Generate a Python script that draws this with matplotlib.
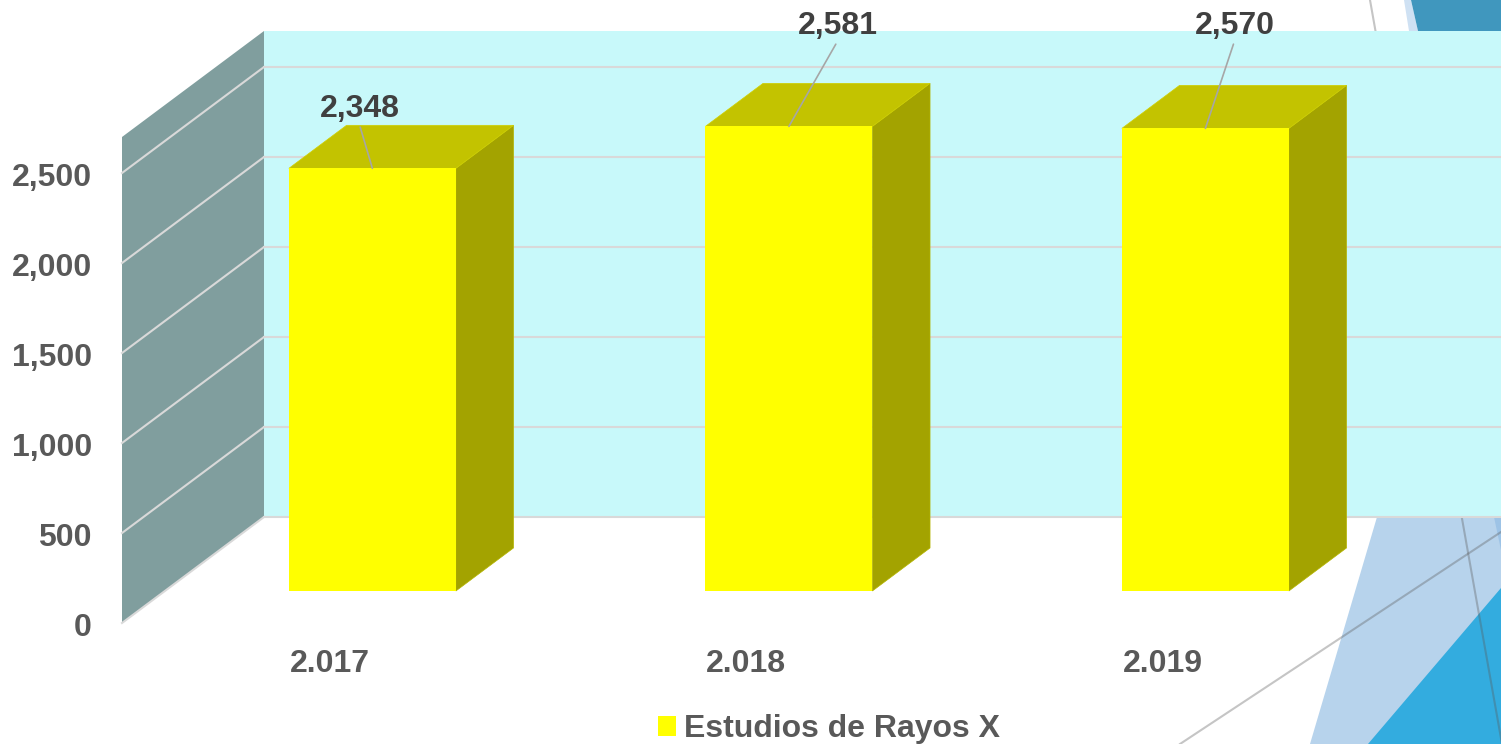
import matplotlib
matplotlib.use('Agg')
import matplotlib.pyplot as plt
from matplotlib.patches import Polygon, Patch

# data
years = ['2.017', '2.018', '2.019']
estudios = [2348, 2581, 2570]
series_name = 'Estudios de Rayos X'
y_ticks = [0, 500, 1000, 1500, 2000, 2500]
y_tick_labels = ['0', '500', '1,000', '1,500', '2,000', '2,500']
y_max = 2700

plt.rcParams['font.family'] = ['Liberation Sans', 'DejaVu Sans']

W, H = 1501, 744
PX_CAT = 416.5       # pixels per category
PX_VAL = 0.18        # pixels per unit of value
X0_PX, Y0_PX = 329.5, 623
DX = 142 / PX_CAT    # depth offset of the 3D box, in data units
DY = 106 / PX_VAL
D_FRONT, D_BACK = 0.302, 0.708
HALF_W = 83.5 / PX_CAT
X_WALL = (122 - X0_PX) / PX_CAT

def proj(x, v, d):
    return (x + d * DX, v + d * DY)

fig = plt.figure(figsize=(W / 100, H / 100), dpi=100)

# theme decoration of the slide behind the chart
bg = fig.add_axes([0, 0, 1, 1], zorder=0)
bg.set_xlim(0, W)
bg.set_ylim(H, 0)
bg.axis('off')
bg.add_patch(Polygon([(1310, 744), (1377, 517), (1395, 455), (1501, 455), (1501, 744)],
                     closed=True, fc='#B7D3EC', ec='none'))
bg.add_patch(Polygon([(1494, 517), (1501, 517), (1501, 550)], closed=True, fc='#9DC3E6', ec='none'))
bg.add_patch(Polygon([(1368, 744), (1501, 588), (1501, 744)], closed=True, fc='#33ACDF', ec='none'))
bg.add_patch(Polygon([(1404, 0), (1411, 0), (1418, 31), (1409, 31)], closed=True, fc='#CFE1F3', ec='none'))
bg.add_patch(Polygon([(1411, 0), (1501, 0), (1501, 31), (1418, 31)], closed=True, fc='#4097BE', ec='none'))
bg.plot([1370, 1502], [0, 744], color='#595959', alpha=0.35, lw=1.5)
bg.plot([1180, 1501], [744, 532], color='#595959', alpha=0.35, lw=1.5)

ax = fig.add_axes([0, 0, 1, 1], zorder=1)
ax.set_facecolor('none')
ax.set_xlim(-X0_PX / PX_CAT, (W - X0_PX) / PX_CAT)
ax.set_ylim(-(H - Y0_PX) / PX_VAL, Y0_PX / PX_VAL)
ax.axis('off')

x_right = ax.get_xlim()[1] + 1

# walls
side = [proj(X_WALL, 0, 0), proj(X_WALL, 0, 1), proj(X_WALL, y_max, 1), proj(X_WALL, y_max, 0)]
back = [proj(X_WALL, 0, 1), proj(x_right, 0, 1), proj(x_right, y_max, 1), proj(X_WALL, y_max, 1)]
ax.add_patch(Polygon(side, closed=True, fc='#809E9E', ec='none', zorder=1))
ax.add_patch(Polygon(back, closed=True, fc='#C8F9FA', ec='none', zorder=1))

for v in y_ticks:
    p0, p1, p2 = proj(X_WALL, v, 0), proj(X_WALL, v, 1), proj(x_right, v, 1)
    ax.plot([p0[0], p1[0]], [p0[1], p1[1]], color='#D9D9D9', lw=1.5, zorder=2)
    ax.plot([p1[0], p2[0]], [p1[1], p2[1]], color='#D9D9D9', lw=1.5, zorder=2)

# bars
for i, v in enumerate(estudios):
    l, r = i - HALF_W, i + HALF_W
    front = [proj(l, 0, D_FRONT), proj(r, 0, D_FRONT), proj(r, v, D_FRONT), proj(l, v, D_FRONT)]
    top = [proj(l, v, D_FRONT), proj(r, v, D_FRONT), proj(r, v, D_BACK), proj(l, v, D_BACK)]
    right = [proj(r, 0, D_FRONT), proj(r, 0, D_BACK), proj(r, v, D_BACK), proj(r, v, D_FRONT)]
    ax.add_patch(Polygon(right, closed=True, fc='#A3A300', ec='#B5B500', lw=0.5, zorder=3))
    ax.add_patch(Polygon(top, closed=True, fc='#C3C300', ec='#D0D000', lw=0.5, zorder=3))
    ax.add_patch(Polygon(front, closed=True, fc='#FFFF00', ec='none', zorder=4))

# data labels with leader lines (offsets in pixels)
label_offsets = [(-13, 59), (48.5, 100), (29, 102)]
for i, v in enumerate(estudios):
    ax.annotate(f'{v:,}', xy=proj(i, v, D_FRONT), xytext=label_offsets[i],
                textcoords='offset pixels', ha='center', va='center',
                fontsize=23, fontweight='bold', color='#404040', zorder=6,
                arrowprops=dict(arrowstyle='-', color='#A6A6A6', lw=1.2,
                                shrinkA=0, shrinkB=0, relpos=(0.5, 0)))

# value axis labels
for v, lab in zip(y_ticks, y_tick_labels):
    ax.text((92 - X0_PX) / PX_CAT, v - 5 / PX_VAL, lab, ha='right', va='center',
            fontsize=23, fontweight='bold', color='#595959')

# category labels
for i, yr in enumerate(years):
    ax.text(i, -(664 - Y0_PX) / PX_VAL, yr, ha='center', va='center',
            fontsize=23, fontweight='bold', color='#595959')

leg = ax.legend(handles=[Patch(fc='#FFFF00', ec='none', label=series_name)],
                loc='center', bbox_to_anchor=(829 / W, 1 - 729 / H), frameon=False,
                handlelength=0.55, handleheight=0.6, handletextpad=0.25,
                prop={'size': 23, 'weight': 'bold'})
for t in leg.get_texts():
    t.set_color('#595959')

fig.savefig('out.png', dpi=100)
